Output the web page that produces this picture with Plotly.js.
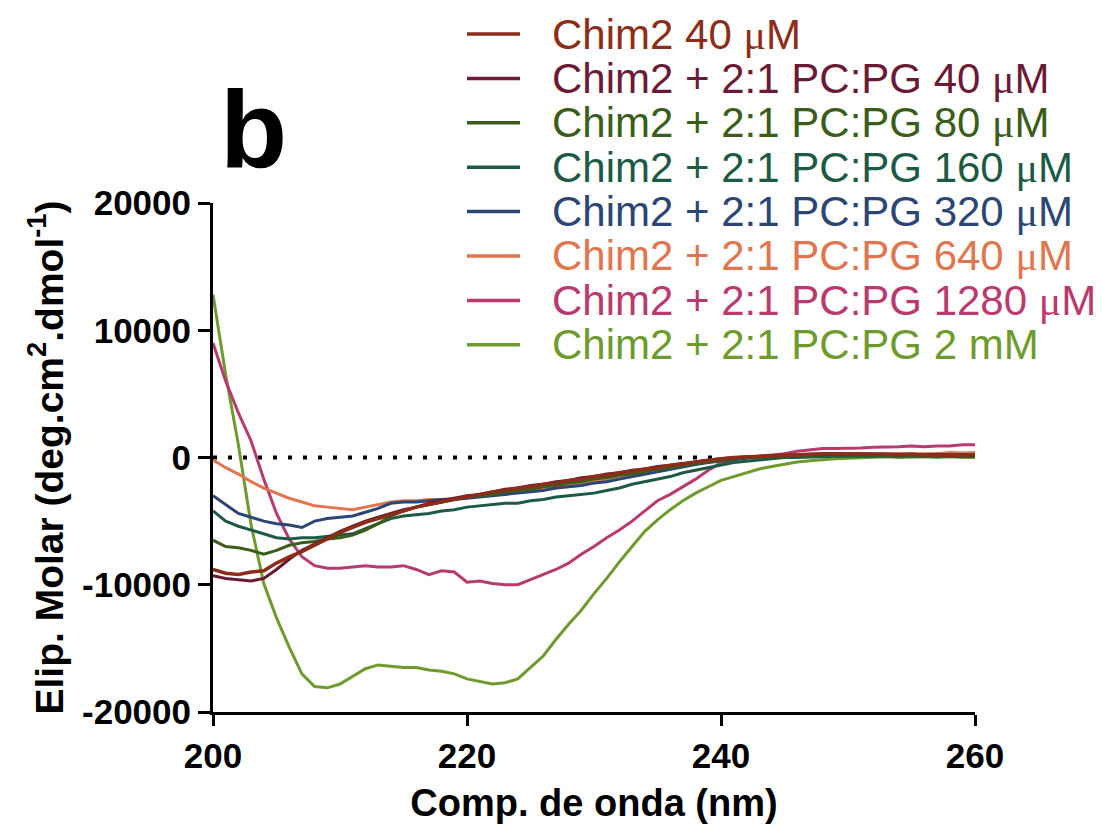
<!DOCTYPE html>
<html>
<head>
<meta charset="utf-8">
<script src="https://cdn.plot.ly/plotly-3.0.1.min.js"></script>
<style>
  html, body { margin: 0; padding: 0; background: #ffffff; }
  #chart { width: 1102px; height: 833px; }
</style>
</head>
<body>
<div id="chart"></div>
<script>
// ---- Data ----
const wavelength = [200,201,202,203,204,205,206,207,208,209,210,211,212,213,214,215,216,217,218,219,220,221,222,223,224,225,226,227,228,229,230,231,232,233,234,235,236,237,238,239,240,241,242,243,244,245,246,247,248,249,250,251,252,253,254,255,256,257,258,259,260];

const chim2_40 = [-8800,-9100,-9200,-9000,-8900,-8300,-7800,-7400,-6900,-6400,-5900,-5500,-5100,-4800,-4500,-4200,-3900,-3700,-3500,-3300,-3100,-2900,-2700,-2600,-2400,-2300,-2100,-2000,-1800,-1700,-1500,-1400,-1200,-1100,-900,-800,-600,-500,-350,-250,-100,0,50,100,150,200,250,250,300,300,300,250,300,250,200,250,200,200,150,200,150];

const lipid_40 = [-9300,-9500,-9600,-9700,-9500,-8800,-8000,-7300,-6800,-6300,-5800,-5400,-5000,-4700,-4400,-4100,-3900,-3600,-3400,-3200,-3000,-2900,-2700,-2500,-2400,-2200,-2100,-1900,-1800,-1600,-1500,-1300,-1200,-1000,-900,-700,-600,-450,-300,-200,-100,0,50,100,150,200,200,250,250,300,250,300,250,250,300,250,200,250,200,200,200];

const lipid_80 = [-6500,-7000,-7100,-7300,-7600,-7300,-6900,-6700,-6600,-6400,-6300,-6100,-5700,-5200,-4600,-4200,-3900,-3700,-3500,-3300,-3100,-3000,-2900,-2700,-2600,-2500,-2300,-2200,-2000,-1900,-1700,-1600,-1400,-1300,-1100,-900,-800,-600,-450,-350,-200,-100,0,50,100,150,150,200,200,200,250,200,200,250,200,200,150,200,150,150,100];

const lipid_160 = [-4200,-5000,-5400,-5700,-6000,-6300,-6400,-6300,-6300,-6200,-6100,-6000,-5600,-5200,-4800,-4600,-4500,-4400,-4200,-4100,-3900,-3800,-3700,-3600,-3600,-3400,-3300,-3100,-3000,-2900,-2800,-2600,-2400,-2100,-1900,-1700,-1500,-1200,-1000,-800,-600,-400,-300,-200,-100,0,0,50,50,100,100,100,150,100,150,100,150,100,100,150,100];

const lipid_320 = [-3000,-3700,-4400,-4700,-5000,-5200,-5300,-5500,-5000,-4800,-4700,-4600,-4300,-4000,-3600,-3500,-3500,-3400,-3300,-3300,-3200,-3100,-3000,-2900,-2800,-2700,-2600,-2400,-2300,-2200,-2000,-1900,-1700,-1500,-1300,-1100,-900,-700,-550,-400,-250,-150,-50,50,100,150,200,200,250,250,250,200,250,250,200,200,250,200,200,250,200];

const lipid_640 = [-200,-800,-1300,-1900,-2400,-2800,-3200,-3500,-3800,-3900,-4000,-4100,-3900,-3700,-3500,-3400,-3400,-3300,-3300,-3200,-3100,-3000,-2900,-2800,-2700,-2600,-2500,-2400,-2200,-2100,-1900,-1800,-1600,-1400,-1200,-1000,-800,-650,-500,-350,-200,-100,0,50,100,150,200,250,250,300,300,250,300,300,350,300,350,300,400,350,400];

const lipid_1280 = [9000,6000,3500,1300,-1700,-4400,-6400,-7800,-8500,-8700,-8700,-8600,-8500,-8600,-8600,-8500,-8800,-9200,-8900,-9000,-9800,-9700,-9900,-10000,-10000,-9600,-9200,-8800,-8300,-7600,-7000,-6300,-5700,-5000,-4200,-3400,-2900,-2300,-1700,-1000,-400,-200,0,100,200,300,500,600,700,700,700,750,800,800,850,900,850,900,900,1000,1000];

const lipid_2mM = [12800,6500,1000,-5300,-9900,-12600,-14900,-17000,-18000,-18100,-17800,-17200,-16600,-16300,-16400,-16500,-16500,-16700,-16800,-17000,-17400,-17600,-17800,-17700,-17400,-16500,-15600,-14300,-13100,-12000,-10700,-9500,-8200,-7000,-5800,-4900,-4100,-3400,-2800,-2300,-1800,-1500,-1200,-900,-700,-500,-350,-250,-150,-100,-50,0,0,50,0,50,50,0,50,0,0];

const seriesLabels = [
  "Chim2 40 μM",
  "Chim2 + 2:1 PC:PG 40 μM",
  "Chim2 + 2:1 PC:PG 80 μM",
  "Chim2 + 2:1 PC:PG 160 μM",
  "Chim2 + 2:1 PC:PG 320 μM",
  "Chim2 + 2:1 PC:PG 640 μM",
  "Chim2 + 2:1 PC:PG 1280 μM",
  "Chim2 + 2:1 PC:PG 2 mM"
];

const xTickVals = [200, 220, 240, 260];
const xTickText = ["200", "220", "240", "260"];
const yTickVals = [-20000, -10000, 0, 10000, 20000];
const yTickText = ["-20000", "-10000", "0", "10000", "20000"];

// ---- Styles ----
const seriesValues = [chim2_40, lipid_40, lipid_80, lipid_160, lipid_320, lipid_640, lipid_1280, lipid_2mM];
const seriesColors = ["#8c2d19", "#6b1a35", "#3a5e1a", "#1d5a45", "#2b4675", "#e0764f", "#b83a6e", "#6f9a2e"];

const W = 1102, H = 833;
const M = { l: 213, r: 127, t: 203, b: 121 };
const plotW = W - M.l - M.r, plotH = H - M.t - M.b;
const px2paperX = (px) => (px - M.l) / plotW;
const px2paperY = (py) => (H - M.b - py) / plotH;

const FONT = "'Liberation Sans', Arial, Helvetica, sans-serif";

function withSerifMu(label) {
  return label.replace("μ", "<span style=\"font-family:'Liberation Serif', serif\">μ</span>");
}

const traces = [];
// draw the last series first so the first one sits on top
for (let i = seriesValues.length - 1; i >= 0; i--) {
  traces.push({
    type: "scatter",
    mode: "lines",
    x: wavelength,
    y: seriesValues[i],
    name: seriesLabels[i],
    showlegend: false,
    line: { color: seriesColors[i], width: i === 0 ? 3.5 : 3 },
    hoverinfo: "skip"
  });
}

// ---- Legend (key drawn as swatch lines + coloured texts) ----
const legendTop = 34, legendStep = 44.4;
const swatchX0 = 467, swatchX1 = 520, legendTextX = 550;
const shapes = [
  {
    type: "line", xref: "x", yref: "y", x0: 200, x1: 240, y0: 0, y1: 0,
    layer: "below",
    line: { color: "#000000", width: 4, dash: "4px,11px" }
  }
];
const annotations = [
  {
    xref: "paper", yref: "paper", x: px2paperX(253), y: px2paperY(128),
    xanchor: "center", yanchor: "middle",
    text: "<b>b</b>", showarrow: false,
    font: { family: FONT, size: 110, color: "#000000" }
  }
];
seriesLabels.forEach((label, i) => {
  const yc = legendTop + i * legendStep;
  shapes.push({
    type: "line", xref: "paper", yref: "paper",
    x0: px2paperX(swatchX0), x1: px2paperX(swatchX1),
    y0: px2paperY(yc), y1: px2paperY(yc),
    line: { color: seriesColors[i], width: 3.5 }
  });
  annotations.push({
    xref: "paper", yref: "paper", x: px2paperX(legendTextX), y: px2paperY(yc),
    xanchor: "left", yanchor: "middle",
    text: withSerifMu(label), showarrow: false,
    font: { family: FONT, size: 42, color: seriesColors[i] }
  });
});

const layout = {
  width: W,
  height: H,
  paper_bgcolor: "#ffffff",
  plot_bgcolor: "#ffffff",
  margin: M,
  font: { family: FONT, color: "#000000" },
  showlegend: false,
  xaxis: {
    range: [200, 260],
    tickvals: xTickVals,
    ticktext: xTickText,
    showline: true,
    linecolor: "#000000",
    linewidth: 3,
    ticks: "outside",
    ticklen: 11,
    tickwidth: 3,
    tickcolor: "#000000",
    showgrid: false,
    zeroline: false,
    tickfont: { family: FONT, size: 35, color: "#000000", weight: "bold" },
    title: { text: "<b>Comp. de onda (nm)</b>", font: { family: FONT, size: 38, color: "#000000" }, standoff: 16 }
  },
  yaxis: {
    range: [-20000, 20000],
    tickvals: yTickVals,
    ticktext: yTickText,
    showline: true,
    linecolor: "#000000",
    linewidth: 3,
    ticks: "outside",
    ticklen: 12,
    tickwidth: 3,
    tickcolor: "#000000",
    showgrid: false,
    zeroline: false,
    tickfont: { family: FONT, size: 35, color: "#000000", weight: "bold" },
    title: { text: "<b>Elip. Molar (deg.cm<sup>2</sup>.dmol<sup>-1</sup>)</b>", font: { family: FONT, size: 39, color: "#000000" }, standoff: 7 }
  },
  shapes: shapes,
  annotations: annotations
};

Plotly.newPlot("chart", traces, layout, { staticPlot: true, displayModeBar: false });
</script>
</body>
</html>
